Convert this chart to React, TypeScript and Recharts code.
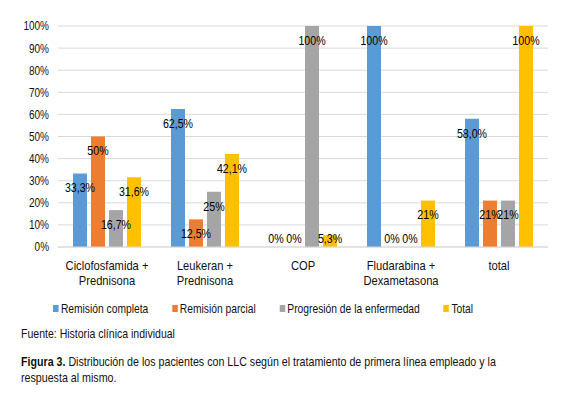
import { BarChart, Bar, XAxis, YAxis, CartesianGrid, Legend, LabelList } from "recharts";

const categories = ["Ciclofosfamida + Prednisona", "Leukeran + Prednisona", "COP", "Fludarabina + Dexametasona", "total"];
const categoryLines = [["Ciclofosfamida +", "Prednisona"], ["Leukeran +", "Prednisona"], ["COP"], ["Fludarabina +", "Dexametasona"], ["total"]];

const remisionCompleta = [33.3, 62.5, 0, 100, 58.0];
const remisionParcial = [50, 12.5, 0, 0, 21];
const progresion = [16.7, 25, 100, 0, 21];
const totalSerie = [31.6, 42.1, 5.3, 21, 100];

const remisionCompletaLabels = ["33,3%", "62,5%", "0%", "100%", "58,0%"];
const remisionParcialLabels = ["50%", "12,5%", "0%", "0%", "21%"];
const progresionLabels = ["16,7%", "25%", "100%", "0%", "21%"];
const totalLabels = ["31,6%", "42,1%", "5,3%", "21%", "100%"];

const yTicks = [0, 10, 20, 30, 40, 50, 60, 70, 80, 90, 100];

const series = [
  { key: "rc", name: "Remisión completa", color: "#5B9BD5", values: remisionCompleta, labels: remisionCompletaLabels },
  { key: "rp", name: "Remisión parcial", color: "#ED7D31", values: remisionParcial, labels: remisionParcialLabels },
  { key: "pe", name: "Progresión de la enfermedad", color: "#A5A5A5", values: progresion, labels: progresionLabels },
  { key: "tt", name: "Total", color: "#FFC000", values: totalSerie, labels: totalLabels },
];

const data = categories.map((c, i) => {
  const row: any = { name: c };
  series.forEach((s) => {
    row[s.key] = s.values[i];
    row[s.key + "Label"] = s.labels[i];
  });
  return row;
});

const FONT = "'Liberation Sans', Arial, sans-serif";
const SQUEEZE = 0.79;

const BarLabel = (props: any) => {
  const { x, y, width, height, value } = props;
  const cy = y + Math.min(14, height - 9);
  return (
    <text
      transform={`translate(${x + width / 2},${cy}) scale(0.85,1)`}
      textAnchor="middle"
      dominantBaseline="central"
      fontSize={12.5}
      fontFamily={FONT}
      fill="#000"
    >
      {value}
    </text>
  );
};

const CategoryTick = (props: any) => {
  const { x, y, payload } = props;
  const lines = categoryLines[payload.index] || [payload.value];
  return (
    <text transform={`translate(${x},${y + 15}) scale(0.86,1)`} textAnchor="middle" fontSize={13} fontFamily={FONT} fill="#111">
      {lines.map((l: string, i: number) => (
        <tspan key={i} x={0} dy={i === 0 ? 0 : 15}>
          {l}
        </tspan>
      ))}
    </text>
  );
};

const PercentTick = (props: any) => {
  const { x, y, payload } = props;
  return (
    <text
      transform={`translate(${x},${y}) scale(0.8,1)`}
      textAnchor="end"
      dominantBaseline="central"
      fontSize={12.5}
      fontFamily={FONT}
      fill="#111"
    >
      {payload.value + "%"}
    </text>
  );
};

const LegendContent = () => (
  <div
    style={{
      display: "flex",
      fontFamily: FONT,
      fontSize: 13,
      color: "#111",
      transform: `scaleX(${SQUEEZE})`,
      transformOrigin: "left center",
      whiteSpace: "nowrap",
      width: 580,
    }}
  >
    {series.map((s) => (
      <div key={s.key} style={{ display: "flex", alignItems: "center", marginRight: 30 }}>
        <span style={{ width: 7, height: 7, background: s.color, marginRight: 3, display: "inline-block" }} />
        <span>{s.name}</span>
      </div>
    ))}
  </div>
);

export default function App() {
  return (
    <div style={{ position: "absolute", left: 0, top: 0, width: 580, height: 398, background: "#fff", fontFamily: FONT }}>
      <BarChart width={580} height={330} data={data} margin={{ top: 26, right: 32, bottom: 0, left: 0 }} barSize={14} barGap={4}>
        <CartesianGrid vertical={false} stroke="#d9d9d9" />
        <XAxis dataKey="name" interval={0} tickLine={false} axisLine={{ stroke: "#d9d9d9" }} height={40} tick={<CategoryTick />} />
        <YAxis
          domain={[0, 100]}
          ticks={yTicks}
          interval={0}
          width={58}
          tickLine={false}
          axisLine={false}
          tickMargin={3}
          tick={<PercentTick />}
        />
        <Legend verticalAlign="bottom" height={43} content={<LegendContent />} wrapperStyle={{ left: 53, top: 301, width: 520 }} />
        {series.map((s) => (
          <Bar key={s.key} dataKey={s.key} name={s.name} fill={s.color} minPointSize={0.01} isAnimationActive={false}>
            <LabelList dataKey={s.key + "Label"} content={<BarLabel />} />
          </Bar>
        ))}
      </BarChart>
      <div
        style={{
          position: "absolute",
          left: 21,
          top: 326,
          fontSize: 13.5,
          color: "#111",
          whiteSpace: "nowrap",
          transform: "scaleX(0.78)",
          transformOrigin: "left top",
        }}
      >
        Fuente: Historia clínica individual
      </div>
      <div
        style={{
          position: "absolute",
          left: 21,
          top: 354,
          fontSize: 13.5,
          lineHeight: "16px",
          color: "#111",
          whiteSpace: "nowrap",
          transform: "scaleX(0.79)",
          transformOrigin: "left top",
        }}
      >
        <b>Figura 3.</b> Distribución de los pacientes con LLC según el tratamiento de primera línea empleado y la
        <br />
        respuesta al mismo.
      </div>
    </div>
  );
}
